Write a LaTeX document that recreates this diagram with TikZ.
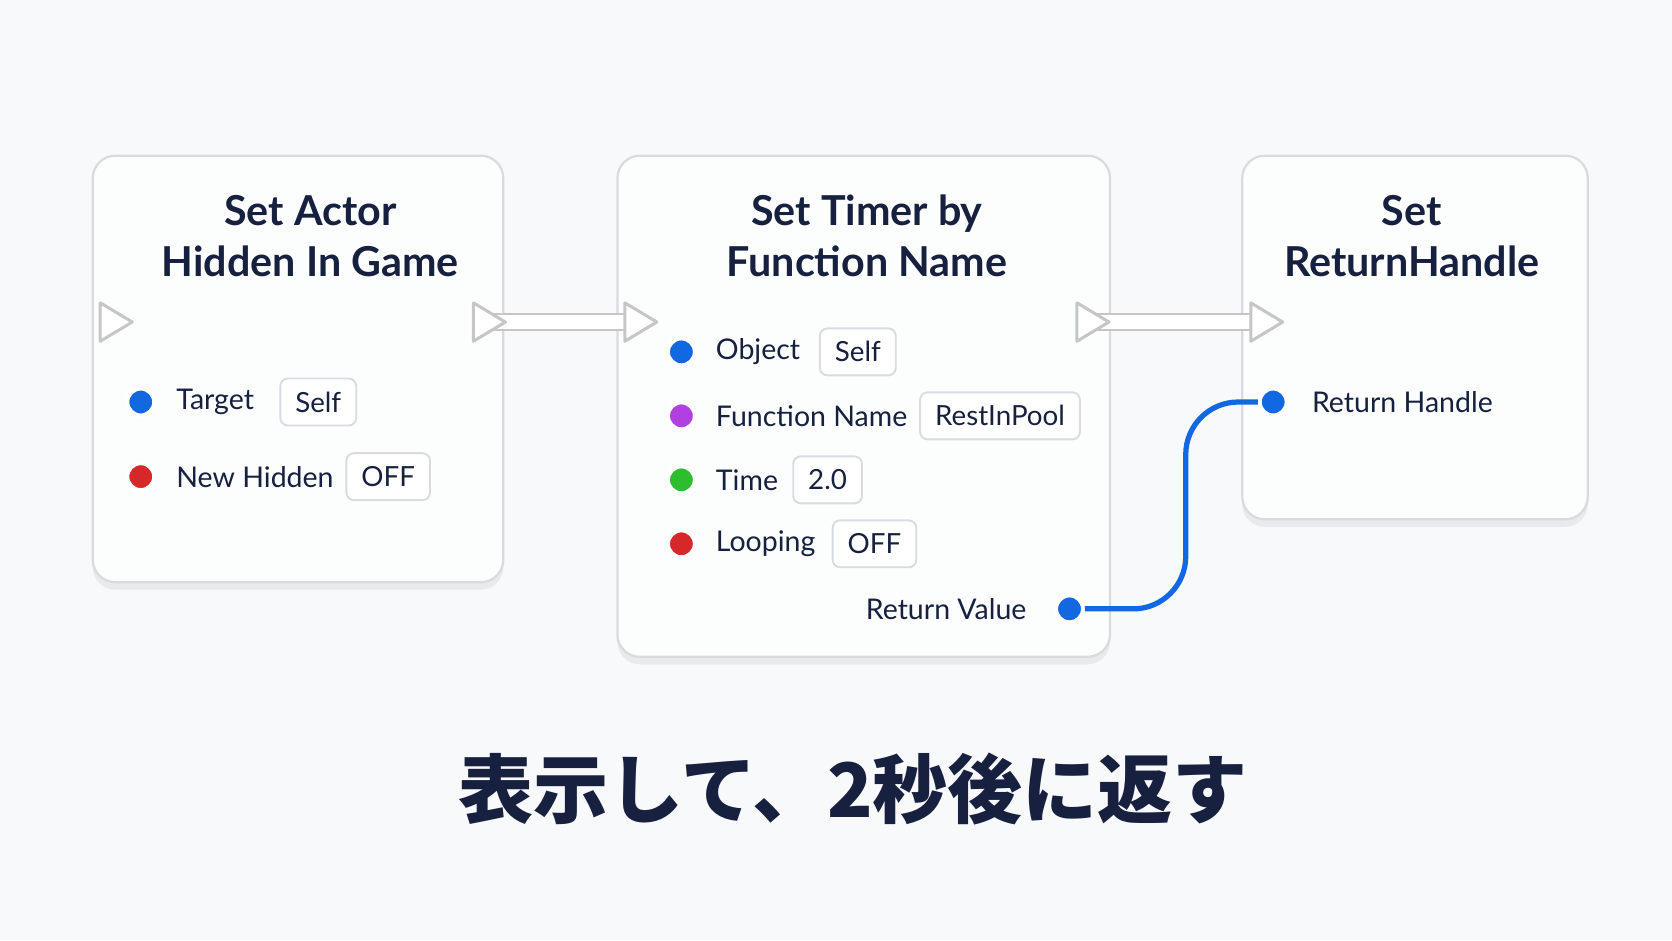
\documentclass[tikz,border=0pt]{standalone}
\usepackage{fontspec}
\setmainfont{Lato}
\newfontfamily\cjk{Noto Sans CJK JP}
\usetikzlibrary{shadows}
\definecolor{ink}{HTML}{17213F}
\definecolor{bgc}{HTML}{F8F9FA}
\definecolor{pinblue}{HTML}{1268E0}
\definecolor{pinred}{HTML}{D62828}
\definecolor{pinviolet}{HTML}{B040E0}
\definecolor{pingreen}{HTML}{2EBD2E}
\definecolor{framec}{HTML}{D8DBE0}
\begin{document}
\begin{tikzpicture}[x=0.01cm,y=-0.01cm]

\tikzstyle{card} = [draw=framec, line width=0.6pt, rounded corners=6pt, fill=white!60!bgc, drop shadow={opacity=0.12, shadow xshift=0pt, shadow yshift=-2pt}]
\tikzstyle{ttl} = [text=ink, font=\bfseries\fontsize{11}{13.6}\selectfont, align=center]
\tikzstyle{lbl} = [text=ink, font=\fontsize{7.6}{9.5}\selectfont, anchor=west]
\tikzstyle{val} = [draw=framec, line width=0.5pt, rounded corners=2pt, fill=white, text=ink, font=\fontsize{7.4}{9}\selectfont, minimum height=0.44cm, inner xsep=4pt, anchor=west]
\tikzstyle{pin} = [circle, draw=white, line width=1pt, minimum size=0.25cm, inner sep=0pt]
\tikzstyle{exec} = [draw=gray!45, line width=0.8pt, fill=white, line join=round]

\fill[bgc] (0,0) rectangle (1568,882);

% cards
\draw[card] (87,146) rectangle (472,546);
\draw[card] (579,146) rectangle (1041,616);
\draw[card] (1165,146) rectangle (1489,487);

\node (ttlA) [ttl] at (291,221) {Set Actor\\Hidden In Game};
\node (ttlB) [ttl] at (813,221) {Set Timer by\\Function Name};
\node (ttlC) [ttl] at (1324,221) {Set\\ReturnHandle};

% exec links
\coordinate (outA) at (458,302);
\coordinate (inB) at (600,302);
\coordinate (outB) at (1024,302);
\coordinate (inC) at (1187,302);
\draw[gray!45, line width=5pt] (outA) -- (inB);
\draw[white, line width=3.6pt] (outA) -- (inB);
\draw[gray!45, line width=5pt] (outB) -- (inC);
\draw[white, line width=3.6pt] (outB) -- (inC);
\foreach \px in {94,444,586,1010,1173}
  \draw[exec] (\px,284) -- (\px+30,302) -- (\px,320) -- cycle;

% wire
\node (retV) [pin, fill=pinblue] at (1003,571) {};
\node (retH) [pin, fill=pinblue] at (1194,377) {};
\draw[pinblue, line width=1.4pt, rounded corners=14pt] (retV) -- (1112,571) -- (1112,377) -- (retH);
\node[pin, fill=pinblue] at (1003,571) {};
\node[pin, fill=pinblue] at (1194,377) {};

% card A rows
\node (pA1) [pin, fill=pinblue] at (132,377) {};
\node (lA1) [lbl] at (153,377) {Target};
\node (vA1) [val] at (262,377) {Self};
\node (pA2) [pin, fill=pinred] at (132,447) {};
\node (lA2) [lbl] at (153,447) {New Hidden};
\node (vA2) [val] at (324,447) {OFF};

% card B rows
\node (pB1) [pin, fill=pinblue] at (639,330) {};
\node (lB1) [lbl] at (659,330) {Object};
\node (vB1) [val] at (768,330) {Self};
\node (pB2) [pin, fill=pinviolet] at (639,390) {};
\node (lB2) [lbl] at (659,390) {Function Name};
\node (vB2) [val] at (862,390) {RestInPool};
\node (pB3) [pin, fill=pingreen] at (639,450) {};
\node (lB3) [lbl] at (659,450) {Time};
\node (vB3) [val] at (743,450) {2.0};
\node (pB4) [pin, fill=pinred] at (639,510) {};
\node (lB4) [lbl] at (659,510) {Looping};
\node (vB4) [val] at (780,510) {OFF};
\node (lB5) [lbl, anchor=east] at (975,571) {Return Value};

% card C rows
\node (lC1) [lbl] at (1218,377) {Return Handle};

% caption
\node (cap) [text=ink, font=\cjk\bfseries\fontsize{20}{24}\selectfont] at (800,740) {表示して、2秒後に返す};
\end{tikzpicture}
\end{document}
